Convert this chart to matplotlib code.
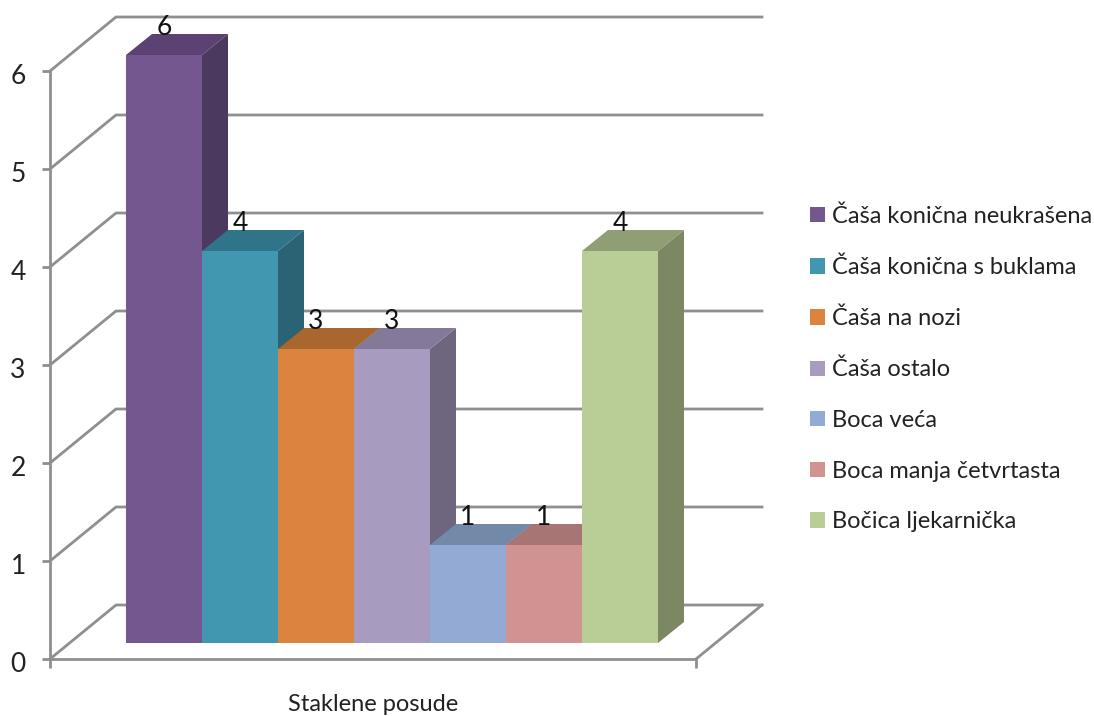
import matplotlib
matplotlib.use('Agg')
import matplotlib.pyplot as plt
from matplotlib.transforms import ScaledTranslation

plt.rcParams['font.family'] = ['Lato', 'DejaVu Sans']

names = ['Čaša konična neukrašena', 'Čaša konična s buklama', 'Čaša na nozi', 'Čaša ostalo',
         'Boca veća', 'Boca manja četvrtasta', 'Bočica ljekarnička']
values = [6, 4, 3, 3, 1, 1, 4]
yticks = [0, 1, 2, 3, 4, 5, 6]

front_col = ['#74578f', '#4197b0', '#db843d', '#a79cbf', '#93aad4', '#d19392', '#b9cd96']
top_col = ['#5b4272', '#2f7489', '#a9662f', '#85799a', '#728aa8', '#a67574', '#8f9e74']
side_col = ['#4c3960', '#2b6375', '#8a5226', '#6e657f', '#5f7390', '#8c6160', '#7b8863']
grid_col = '#8f8f8f'

W, H = 1094, 716
# plot box in pixels, one bar is 76 px wide and one unit is 98 px high
fig = plt.figure(figsize=(W / 100, H / 100), dpi=100)
ax = fig.add_axes([50 / W, (H - 659) / H, 646 / W, 588 / H])
ax.set_xlim(-1, 7.5)
ax.set_ylim(0, 6)

# depth of the fake 3d walls and of the bars, in data units
wall_dx, wall_dy = 66 / 76, 54 / 98
bar_dx, bar_dy = 26 / 76, 21 / 98
base = 16 / 98

for v in yticks:
    ax.plot([-1, -1 + wall_dx, 7.5 + wall_dx], [v, v + wall_dy, v + wall_dy],
            color=grid_col, lw=2, clip_on=False, zorder=1, solid_joinstyle='miter')
ax.plot([7.5, 7.5 + wall_dx], [0, wall_dy], color=grid_col, lw=2, clip_on=False, zorder=1)

handles = []
for i, v in enumerate(values):
    z = 2 + i
    top = v + base
    ax.fill([i + 1, i + 1 + bar_dx, i + 1 + bar_dx, i + 1],
            [base, base + bar_dy, top + bar_dy, top],
            color=side_col[i], lw=0, clip_on=False, zorder=z)
    ax.fill([i, i + bar_dx, i + 1 + bar_dx, i + 1],
            [top, top + bar_dy, top + bar_dy, top],
            color=top_col[i], lw=0, clip_on=False, zorder=z)
    b = ax.bar(i + 0.5, v, width=1, bottom=base, color=front_col[i], lw=0,
               clip_on=False, zorder=z)
    handles.append(b[0])
    ax.text(i + 0.5, top + bar_dy - 0.065, str(v), ha='center', va='bottom',
            fontsize=19, color='#111111', zorder=20)

for s in ['top', 'right']:
    ax.spines[s].set_visible(False)
for s in ['left', 'bottom']:
    ax.spines[s].set_color(grid_col)
    ax.spines[s].set_linewidth(2)
    ax.spines[s].set_zorder(1)

ax.set_yticks(yticks)
ax.set_xticks([-1, 7.5])
ax.set_xticklabels(['', ''])
ax.tick_params(axis='y', length=6, width=2, color=grid_col, labelsize=19, pad=11.5, labelcolor='#222222')
ax.tick_params(axis='x', length=6.5, width=2, color=grid_col)
# the numbers sit a little under their ticks
for lab in ax.get_yticklabels():
    lab.set_transform(lab.get_transform() + ScaledTranslation(0, -2.5 / 72, fig.dpi_scale_trans))
ax.set_xlabel('Staklene posude', fontsize=17, color='#222222', labelpad=15)

ax.legend(handles, names, loc='center left', bbox_to_anchor=(810 / W, (H - 369) / H),
          bbox_transform=fig.transFigure, frameon=False, fontsize=17, labelcolor='#222222',
          handlelength=0.62, handleheight=0.62, handletextpad=0.32, labelspacing=1.255,
          borderpad=0, borderaxespad=0)

fig.savefig('out.png', dpi=100)
